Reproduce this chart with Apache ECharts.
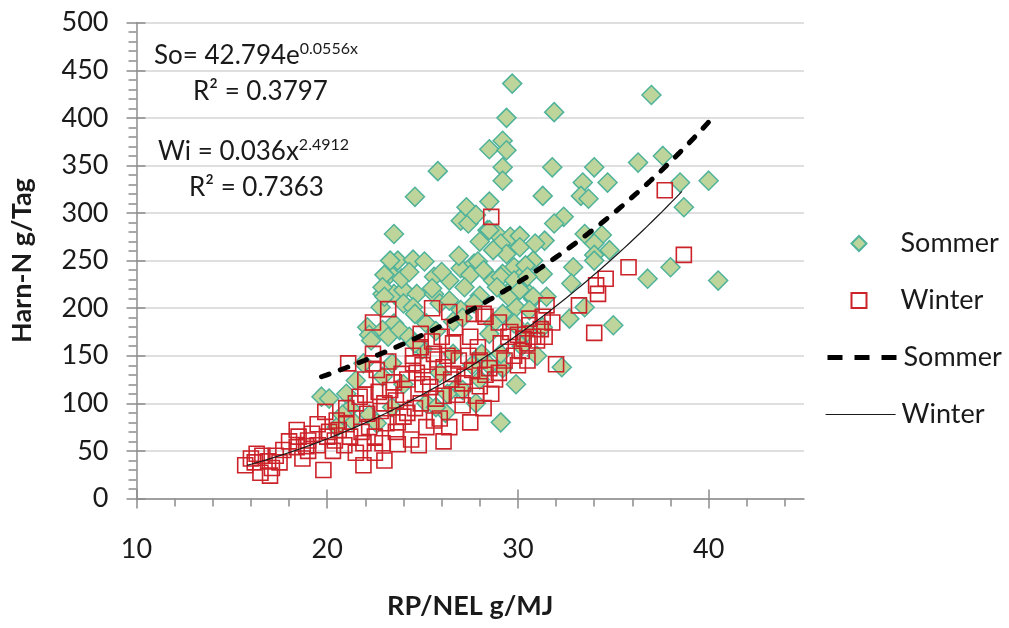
<!DOCTYPE html>
<html>
<head>
<meta charset="utf-8">
<script src="https://cdn.jsdelivr.net/npm/echarts@6/dist/echarts.min.js"></script>
<style>
  html, body { margin: 0; padding: 0; background: #ffffff; }
  #chart { width: 1009px; height: 628px; }
</style>
</head>
<body>
<div id="chart"></div>
<script>
// RP/NEL (g/MJ) vs. urine N (g/day), summer and winter samples
const sommerPoints = [
  [29.7,436],[37.0,424],[31.9,406],[29.4,400],[29.2,376],[28.5,367],[29.4,366],[29.2,348],[29.2,334],[25.8,344],
  [24.6,317],[23.5,278],[27.3,306],[28.5,312],[31.8,348],[34.0,348],[36.3,353],[37.6,360],[33.4,332],[34.7,332],
  [31.3,318],[33.3,318],[33.7,315],[38.5,332],[40.0,334],[38.7,306],[32.4,296],[31.9,289],[33.5,278],[34.4,277],
  [31.4,271],[34.0,268],[34.8,261],[34.0,256],[32.9,243],[34.0,250],[38.0,243],[36.8,231],[40.5,229],[31.3,236],
  [32.8,226],[30.8,210],[31.5,212],[33.5,201],[32.7,189],[35.0,182],[31.3,180],[32.3,138],
  [27.0,292],[27.4,289],[27.8,298],[28.4,282],[28.0,270],[28.9,278],[29.6,275],[30.1,276],[29.1,268],[30.9,268],
  [23.7,250],[24.5,251],[25.1,249],[23.3,236],[25.6,233],[27.0,242],[27.7,247],[26.4,229],[27.5,235],[29.4,257],
  [30.1,264],[30.8,250],[29.8,243],[29.2,236],[30.3,236],[28.7,229],[22.9,215],[23.5,215],[24.0,219],[24.7,215],
  [25.6,215],[29.6,219],[30.6,215],[22.8,201],[24.0,205],[24.5,201],[25.9,205],[29.9,201],[28.5,282],[28.7,261],
  [27.9,249],[30.4,245],[23.9,231],[29.1,233],[29.8,229],[30.5,233],[25.5,221],[26.4,208],[28.9,222],[29.5,212],
  [30.1,219],[30.8,212],[24.6,194],[27.0,198],[29.2,194],[30.6,198],[22.1,180],[23.5,184],[25.2,184],[28.7,184],
  [29.8,184],[23.3,250],[23.0,235],[22.9,222],[23.0,212],[22.2,172],[22.9,177],[26.9,255],[28.2,240],[26.0,238],
  [24.3,238],[27.2,222],[28.0,213],[27.7,205],[26.6,186],
  [19.7,107],[20.1,105],[21.2,95],[21.3,82],[20.5,75],[22.3,166],[21.9,142],[21.5,124],[23.2,170],[23.4,142],
  [22.9,128],[23.4,96],[22.2,88],[22.6,79],[29.1,80],[29.2,137],[28.1,152],[29.1,152],[28.5,173],[23.8,177],
  [26.6,152],[26.8,117],[26.3,110],[27.1,114],[24.3,170],[25.0,157],[25.7,176],[27.1,190],[24.6,163],[25.9,132],
  [27.6,140],[28.0,125],[30.2,160],[30.5,175],[31.0,150],[29.9,120],[25.2,100],[24.0,120],[27.8,100],[26.2,90],
  [28.5,140],[25.7,96],[21.0,110],[20.8,88]
];

const winterPoints = [
  [15.7,35],[16.0,42],[16.3,47],[16.5,27],[16.9,39],[17.1,32],[16.2,38],[16.6,45],[17.0,24],[17.7,51],
  [18.4,54],[18.4,72],[18.7,42],[19.0,61],[19.2,68],[19.5,56],[19.8,30],[19.9,91],[20.1,70],[20.4,61],
  [20.6,72],[20.9,56],[21.2,65],[21.9,35],[21.9,58],[22.2,75],[22.5,65],[22.9,58],[22.1,89],[21.7,107],
  [22.0,109],[22.4,152],[22.6,135],[23.3,114],[23.6,103],[23.9,131],[23.1,79],[24.0,86],[17.3,45],[18.0,60],
  [19.0,50],[20.3,50],[21.5,48],[17.5,38],[18.9,55],[20.0,65],[21.0,78],[21.8,70],[22.8,92],[23.2,144],
  [23.2,199],[21.1,142],[22.4,142],[28.6,296],[25.5,200],[26.4,196],[27.7,194],[28.2,194],[30.6,189],[24.9,173],
  [25.5,165],[26.6,163],[27.9,159],[29.1,163],[30.5,163],[30.8,170],[30.6,182],[26.7,180],[24.9,159],[25.6,152],
  [24.5,142],[26.1,138],[25.4,117],[26.1,108],[24.0,109],[24.9,100],[24.2,90],[25.6,82],[25.2,75],[24.8,56],
  [26.1,60],[28.2,95],[26.8,109],[27.1,121],[26.6,131],[28.3,130],[28.5,137],[25.9,84],[23.6,70],[23.0,40],
  [22.5,48],[24.4,62],[23.7,57],[37.7,324],[38.7,256],[35.8,243],[34.6,231],[34.1,224],[34.2,215],[33.2,203],
  [31.5,203],[34.0,174],[31.3,191],[31.4,170],[31.0,166],[32.0,141],[28.3,191],[30.0,172],[30.3,168],[29.6,175],
  [24.2,125],[24.7,132],[25.0,140],[25.3,128],[25.8,146],[26.3,150],[26.9,145],[27.4,150],[27.6,135],[27.2,128],
  [28.0,118],[28.8,125],[29.3,145],[29.8,150],[30.2,155],[27.5,170],[26.0,170],[25.0,120],[23.5,122],[23.0,100],
  [22.7,112],[24.5,150],[26.5,125],[27.8,108],[28.6,110],[29.0,132],[29.5,170],[30.0,140],[25.7,105],[24.6,95],
  [23.7,80],[21.0,95],[20.5,82],[19.5,78],[18.5,65],[22.0,125],[21.5,100],[27.1,98],[26.4,75],[27.5,80],
  [28.0,145],[31.2,178],[31.8,185],[29.0,185],[30.5,145],[22.4,185]
];

// Fitted trend curves, as printed in the plot
// Sommer: y = a * e^(b x)   Winter: y = a * x^b
const sommerFit = [42.794, 0.0556, 19.7, 40.1];   // a, b, x from, x to
const winterFit = [0.036, 2.4912, 15.8, 38.6];

const xMajorTicks = [10, 20, 30, 40];
const xMinorTicks = [12, 14, 16, 18, 22, 24, 26, 28, 32, 34, 36, 38, 42, 44];

function curve(fit, f) {
  const pts = [];
  for (let x = fit[2]; x < fit[3]; x += 0.25) pts.push([x, f(x)]);
  pts.push([fit[3], f(fit[3])]);
  return pts;
}
const sommerCurve = curve(sommerFit, x => sommerFit[0] * Math.exp(sommerFit[1] * x));
const winterCurve = curve(winterFit, x => winterFit[0] * Math.pow(x, winterFit[1]));

const FONT = 'Lato';
const TXT = '#1a1a1a';
const AXIS_GRAY = '#8c8c8c';

const chart = echarts.init(document.getElementById('chart'), null, { renderer: 'canvas' });

const baseX = { type: 'value', min: 10, max: 45, gridIndex: 0, position: 'bottom', splitLine: { show: false } };
const baseY = { type: 'value', min: 0, max: 500, interval: 50, gridIndex: 0, position: 'left' };

function legendText(pad) {
  return {
    fontFamily: FONT, fontSize: 27, color: TXT, lineHeight: 27,
    rich: {
      p: { width: pad },
      t: { fontFamily: FONT, fontSize: 27, color: TXT, lineHeight: 27 }
    }
  };
}

function lineLegend(name, top, lineStyle) {
  return {
    orient: 'vertical',
    left: 820,
    top: top,
    itemWidth: 70,
    itemHeight: 15,
    data: [name],
    formatter: n => '{p|}{t|' + n.replace(' Trend', '') + '}',
    lineStyle: lineStyle,
    textStyle: legendText(1)
  };
}

chart.setOption({
  animation: false,
  backgroundColor: '#ffffff',
  textStyle: { fontFamily: FONT },
  grid: { left: 136.5, right: 205, top: 22.7, bottom: 129.5 },
  legend: [
    {
      orient: 'vertical',
      left: 845.5,
      top: 225,
      itemWidth: 15,
      itemHeight: 15,
      itemGap: 30,
      data: ['Sommer', 'Winter'],
      formatter: n => '{p|}{t|' + n + '}',
      textStyle: legendText(29)
    },
    lineLegend('Sommer Trend', 339, { width: 'inherit', type: [15, 12], cap: 'butt' }),
    lineLegend('Winter Trend', 396, { width: 'inherit' })
  ],
  xAxis: [
    Object.assign({}, baseX, {
      name: 'RP/NEL g/MJ',
      nameLocation: 'middle',
      nameGap: 94,
      nameTextStyle: { fontFamily: FONT, fontSize: 27, fontWeight: 'bold', color: TXT },
      axisLine: { show: true, lineStyle: { color: AXIS_GRAY, width: 1.5 } },
      axisTick: { show: true, customValues: xMajorTicks, length: 10, lineStyle: { color: AXIS_GRAY, width: 1.5 } },
      axisLabel: { customValues: xMajorTicks, margin: 37, fontFamily: FONT, fontSize: 27, color: TXT }
    }),
    Object.assign({}, baseX, {
      axisLine: { show: false },
      axisTick: { show: true, inside: true, customValues: xMajorTicks, length: 9, lineStyle: { color: AXIS_GRAY, width: 1.5 } },
      axisLabel: { show: false }
    }),
    Object.assign({}, baseX, {
      axisLine: { show: false },
      axisTick: { show: true, customValues: xMinorTicks, length: 8, lineStyle: { color: AXIS_GRAY, width: 1.5 } },
      axisLabel: { show: false }
    })
  ],
  yAxis: [
    Object.assign({}, baseY, {
      name: 'Harn-N g/Tag',
      nameLocation: 'middle',
      nameGap: 101,
      nameTextStyle: { fontFamily: FONT, fontSize: 27, fontWeight: 'bold', color: TXT },
      axisLine: { show: true, lineStyle: { color: AXIS_GRAY, width: 1.5 } },
      axisTick: { show: true, length: 10, lineStyle: { color: AXIS_GRAY, width: 1.5 } },
      minorTick: { show: true, splitNumber: 5, length: 8, lineStyle: { color: AXIS_GRAY, width: 1.5 } },
      axisLabel: { margin: 28, fontFamily: FONT, fontSize: 27, color: TXT },
      splitLine: { show: true, lineStyle: { color: '#d4d4d4', width: 1.5 } }
    }),
    Object.assign({}, baseY, {
      axisLine: { show: false },
      axisTick: { show: true, inside: true, length: 9, lineStyle: { color: AXIS_GRAY, width: 1.5 } },
      axisLabel: { show: false },
      splitLine: { show: false }
    })
  ],
  series: [
    {
      name: 'Sommer',
      type: 'scatter',
      symbol: 'diamond',
      symbolSize: 19,
      data: sommerPoints,
      itemStyle: { color: '#bdd59a', borderColor: '#4fb29a', borderWidth: 1.5, opacity: 1 }
    },
    {
      name: 'Winter',
      type: 'scatter',
      symbol: 'rect',
      symbolSize: 15,
      data: winterPoints,
      itemStyle: { color: 'rgba(255,255,255,0)', borderColor: '#cc2229', borderWidth: 1.6, opacity: 1 }
    },
    {
      name: 'Sommer Trend',
      type: 'line',
      data: sommerCurve,
      showSymbol: false,
      symbol: 'none',
      lineStyle: { color: '#000000', width: 5, type: [8, 12], cap: 'round' },
      itemStyle: { color: 'rgba(0,0,0,0)', borderWidth: 0 },
      z: 5
    },
    {
      name: 'Winter Trend',
      type: 'line',
      data: winterCurve,
      showSymbol: false,
      symbol: 'none',
      lineStyle: { color: '#1a1a1a', width: 1.2 },
      itemStyle: { color: 'rgba(0,0,0,0)', borderWidth: 0 },
      z: 5
    }
  ],
  graphic: [
    {
      type: 'text', left: 154, top: 41, z: 10,
      style: {
        text: '{m|So= ' + sommerFit[0] + 'e}{s|' + sommerFit[1] + 'x}',
        rich: {
          m: { fontFamily: FONT, fontSize: 26, lineHeight: 30, fill: TXT },
          s: { fontFamily: FONT, fontSize: 16, lineHeight: 18, fill: TXT, verticalAlign: 'top' }
        }
      }
    },
    {
      type: 'text', left: 193, top: 79, z: 10,
      style: { text: 'R² = 0.3797', font: '26px ' + FONT, fill: TXT }
    },
    {
      type: 'text', left: 158, top: 137, z: 10,
      style: {
        text: '{m|Wi = ' + winterFit[0] + 'x}{s|' + winterFit[1] + '}',
        rich: {
          m: { fontFamily: FONT, fontSize: 26, lineHeight: 30, fill: TXT },
          s: { fontFamily: FONT, fontSize: 16, lineHeight: 18, fill: TXT, verticalAlign: 'top' }
        }
      }
    },
    {
      type: 'text', left: 189, top: 175, z: 10,
      style: { text: 'R² = 0.7363', font: '26px ' + FONT, fill: TXT }
    }
  ]
});
</script>
</body>
</html>
